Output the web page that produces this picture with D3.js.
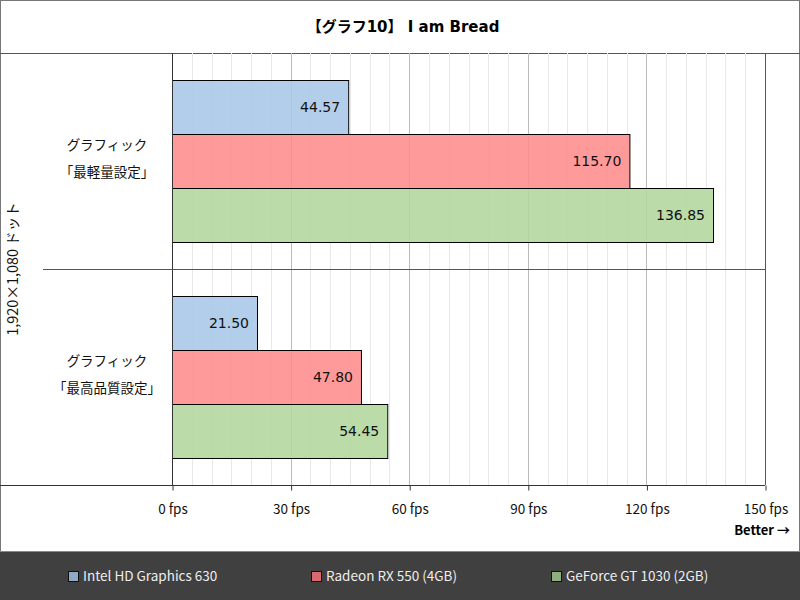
<!DOCTYPE html>
<html>
<head>
<meta charset="utf-8">
<script src="https://cdn.jsdelivr.net/npm/d3@7"></script>
<style>
  body { margin: 0; background: #fff; }
  svg { display: block; font-family: "Noto Sans CJK JP", "DejaVu Sans", sans-serif; }
</style>
</head>
<body>
<svg width="800" height="600"></svg>
<script>
// データ
const categories = ["グラフィック\n「最軽量設定」", "グラフィック\n「最高品質設定」"];
const seriesNames = ["Intel HD Graphics 630", "Radeon RX 550 (4GB)", "GeForce GT 1030 (2GB)"];
const seriesValues = [
  [44.57, 21.50],
  [115.70, 47.80],
  [136.85, 54.45]
];
const tickValues = [0, 30, 60, 90, 120, 150];
const barColors = ["#a7c7e7", "#ff8c8c", "#b2d69c"];
const legendColors = ["#8fa9c6", "#d9696e", "#8fad7e"];

const svg = d3.select("svg");
const W = 800, H = 600;
const plot = { left: 172, right: 765, top: 53, bottom: 485 };
const latin = "\"DejaVu Sans\", \"Noto Sans CJK JP\", sans-serif";

// 枠・タイトル
svg.append("rect").attr("x", 0.5).attr("y", 0.5).attr("width", W - 1).attr("height", H - 1)
  .attr("fill", "#fff").attr("stroke", "#777");

svg.append("text")
  .attr("x", W / 2 + 3).attr("y", 32)
  .attr("text-anchor", "middle")
  .attr("font-family", latin)
  .attr("font-size", 15).attr("font-weight", "bold")
  .text("【グラフ10】 I am Bread");

svg.append("line").attr("x1", 0).attr("x2", W).attr("y1", 53.5).attr("y2", 53.5)
  .attr("stroke", "#555");

// スケール
const x = d3.scaleLinear().domain([0, 150]).range([plot.left, plot.right]);
const y0 = d3.scaleBand().domain(d3.range(categories.length)).range([plot.top, plot.bottom]);
const y1 = d3.scaleBand().domain(d3.range(seriesNames.length))
  .range([0, y0.bandwidth()]).paddingOuter(0.5).paddingInner(0);

// グリッド
const g = svg.append("g");
g.selectAll(".minor").data(d3.range(5, 150, 5).filter(v => v % 30 !== 0))
  .join("line")
  .attr("x1", d => Math.round(x(d)) + 0.5).attr("x2", d => Math.round(x(d)) + 0.5)
  .attr("y1", plot.top).attr("y2", plot.bottom)
  .attr("stroke", "#e8e8e8");
g.selectAll(".major").data(tickValues.slice(1, -1))
  .join("line")
  .attr("x1", d => Math.round(x(d)) + 0.5).attr("x2", d => Math.round(x(d)) + 0.5)
  .attr("y1", plot.top).attr("y2", plot.bottom)
  .attr("stroke", "#bbb");

// 棒
const groups = g.selectAll(".cat").data(categories).join("g")
  .attr("transform", (d, i) => `translate(0,${y0(i)})`);

groups.each(function (c, ci) {
  const gs = d3.select(this);
  seriesNames.forEach((s, si) => {
    const v = seriesValues[si][ci];
    const yy = Math.round(y1(si)) + 0.5;
    gs.append("rect")
      .attr("x", x(0) + 0.5).attr("y", yy)
      .attr("width", x(v) - x(0)).attr("height", y1.bandwidth())
      .attr("fill", barColors[si]).attr("fill-opacity", 0.88)
      .attr("stroke", "#000").attr("stroke-width", 1);
    gs.append("text")
      .attr("x", x(v) - 8).attr("y", yy + y1.bandwidth() / 2)
      .attr("dy", "0.35em").attr("text-anchor", "end")
      .attr("font-family", latin)
      .attr("font-size", 14).attr("fill", "#111")
      .text(v.toFixed(2));
  });
});

// 枠線・区切り
g.append("line").attr("x1", plot.left + 0.5).attr("x2", plot.left + 0.5)
  .attr("y1", plot.top).attr("y2", plot.bottom).attr("stroke", "#333");
g.append("line").attr("x1", plot.right + 0.5).attr("x2", plot.right + 0.5)
  .attr("y1", plot.top).attr("y2", plot.bottom).attr("stroke", "#555");
g.append("line").attr("x1", 43).attr("x2", plot.right)
  .attr("y1", y0(1) + 0.5).attr("y2", y0(1) + 0.5).attr("stroke", "#555");

// X軸
const xAxis = d3.axisBottom(x).tickValues(tickValues).tickSize(5).tickFormat(d => `${d} fps`);
const ax = svg.append("g").attr("transform", `translate(0.5,${plot.bottom + 0.5})`).call(xAxis);
ax.select(".domain").remove();
ax.selectAll("line").attr("stroke", "#333");
ax.selectAll("text").attr("font-size", 13.5).attr("fill", "#111").attr("dy", "1.55em")
  .attr("font-family", "\"Noto Sans CJK JP\", sans-serif");
svg.append("line").attr("x1", 0).attr("x2", plot.right)
  .attr("y1", plot.bottom + 0.5).attr("y2", plot.bottom + 0.5).attr("stroke", "#333");

svg.append("text").attr("x", 790).attr("y", 535)
  .attr("text-anchor", "end").attr("font-size", 13).attr("font-weight", "bold")
  .text("Better →");

// カテゴリラベル
categories.forEach((c, i) => {
  const lines = c.split("\n");
  const cy = y0(i) + y0.bandwidth() / 2;
  lines.forEach((t, li) => {
    svg.append("text")
      .attr("x", 107).attr("y", cy - 16 + li * 27)
      .attr("dy", "0.35em").attr("text-anchor", "middle")
      .attr("font-size", 13.5).attr("fill", "#111")
      .text(t);
  });
});

// Y軸タイトル
svg.append("text")
  .attr("transform", `translate(18,${(plot.top + plot.bottom) / 2}) rotate(-90)`)
  .attr("text-anchor", "middle").attr("font-size", 14.5).attr("fill", "#111")
  .text("1,920×1,080 ドット");

// 凡例
svg.append("rect").attr("x", 0).attr("y", 551).attr("width", W).attr("height", 49)
  .attr("fill", "#404040");
svg.append("line").attr("x1", 0).attr("x2", W).attr("y1", 551.5).attr("y2", 551.5)
  .attr("stroke", "#888");
const legendX = [68, 311, 551];
seriesNames.forEach((s, i) => {
  svg.append("rect").attr("x", legendX[i] + 0.5).attr("y", 571.5)
    .attr("width", 10).attr("height", 10)
    .attr("fill", legendColors[i]).attr("stroke", "#111");
  svg.append("text").attr("x", legendX[i] + 15).attr("y", 576)
    .attr("dy", "0.35em").attr("font-size", 13.5).attr("fill", "#eee")
    .text(s);
});
</script>
</body>
</html>
